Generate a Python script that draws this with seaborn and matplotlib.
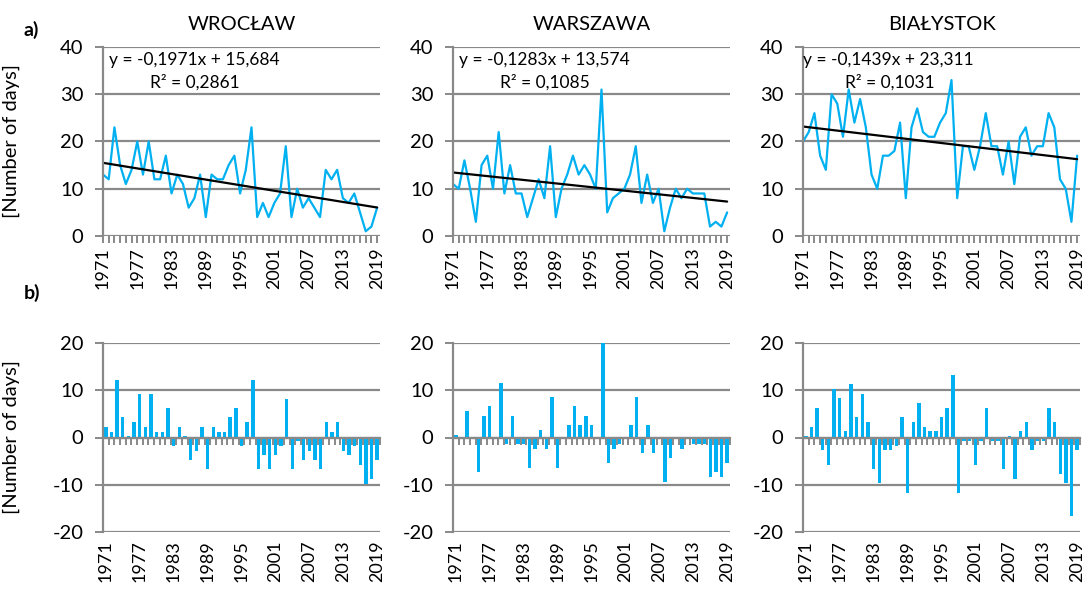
import numpy as np
import pandas as pd
import seaborn as sns
import matplotlib.pyplot as plt
from matplotlib.ticker import FixedLocator

# number of days per year
years = list(range(1971, 2020))
wroclaw = [13, 12, 23, 15, 11, 14, 20, 13, 20, 12,
           12, 17, 9, 13, 11, 6, 8, 13, 4, 13,
           12, 12, 15, 17, 9, 14, 23, 4, 7, 4,
           7, 9, 19, 4, 10, 6, 8, 6, 4, 14,
           12, 14, 8, 7, 9, 5, 1, 2, 6]
warszawa = [11, 10, 16, 10, 3, 15, 17, 10, 22, 9,
            15, 9, 9, 4, 8, 12, 8, 19, 4, 10,
            13, 17, 13, 15, 13, 10, 31, 5, 8, 9,
            10, 13, 19, 7, 13, 7, 10, 1, 6, 10,
            8, 10, 9, 9, 9, 2, 3, 2, 5]
bialystok = [20, 22, 26, 17, 14, 30, 28, 21, 31, 24,
             29, 23, 13, 10, 17, 17, 18, 24, 8, 23,
             27, 22, 21, 21, 24, 26, 33, 8, 19, 19,
             14, 19, 26, 19, 19, 13, 20, 11, 21, 23,
             17, 19, 19, 26, 23, 12, 10, 3, 17]

stations = ["WROCŁAW", "WARSZAWA", "BIAŁYSTOK"]
series = [wroclaw, warszawa, bialystok]
# linear trend as printed on the chart (x = 1 for 1971)
slopes = [-0.1971, -0.1283, -0.1439]
intercepts = [15.684, 13.574, 23.311]
r2_values = ["0,2861", "0,1085", "0,1031"]
eq_texts = ["y = -0,1971x + 15,684", "y = -0,1283x + 13,574", "y = -0,1439x + 23,311"]
label_years = list(range(1971, 2020, 6))

BLUE = "#00b0f0"
GREY = "#898989"

sns.set_theme(style="white")
plt.rcParams['font.family'] = ['Lato', 'DejaVu Sans']
plt.rcParams['axes.unicode_minus'] = False
plt.rcParams['text.color'] = 'black'
plt.rcParams['xtick.labelcolor'] = 'black'
plt.rcParams['ytick.labelcolor'] = 'black'
plt.rcParams['axes.labelcolor'] = 'black'

fig = plt.figure(figsize=(10.88, 5.95), dpi=100)

lefts = [103 / 1088, 453 / 1088, 803 / 1088]
width = 277 / 1088
top_bottom = 1 - 236 / 595
low_bottom = 1 - 532 / 595
height = 189 / 595


def style_axes(ax):
    for side in ["top", "right"]:
        ax.spines[side].set_visible(False)
    ax.spines["left"].set_color(GREY)
    ax.spines["left"].set_linewidth(1.6)
    ax.yaxis.grid(True, color=GREY, linewidth=1.6)
    ax.set_axisbelow(True)
    ax.tick_params(axis="y", which="major", direction="out", length=6, width=1.4,
                   color=GREY, labelsize=14.5, pad=8, left=True)


for i, (name, vals) in enumerate(zip(stations, series)):
    df = pd.DataFrame({"year": years, "days": vals})
    df["trend"] = slopes[i] * (df["year"] - 1970) + intercepts[i]
    df["anomaly"] = df["days"] - df["days"].mean()

    # ---- a) time series with trend
    ax = fig.add_axes([lefts[i], top_bottom, width, height])
    sns.lineplot(data=df, x="year", y="days", color=BLUE, linewidth=1.6, ax=ax)
    sns.lineplot(data=df, x="year", y="trend", color="black", linewidth=1.6, ax=ax)
    style_axes(ax)
    ax.spines["bottom"].set_visible(False)
    ax.set_ylim(0, 40)
    ax.set_yticks([0, 10, 20, 30, 40])
    ax.set_xlim(1971, 2019.5)
    ax.set_xticks(label_years)
    ax.xaxis.set_minor_locator(FixedLocator(years))
    ax.tick_params(axis="x", which="both", direction="out", length=5, width=1.4,
                   color=GREY, bottom=True, labelsize=13, labelrotation=90, pad=3)
    ax.set_xlabel("")
    ax.set_ylabel("")
    ax.set_title(name, fontsize=14.5, pad=12)
    eq_x = 0.0 if i == 2 else 0.02
    ax.text(eq_x, 0.93, eq_texts[i], transform=ax.transAxes, fontsize=12.5,
            va="center", ha="left")
    ax.text(eq_x + 0.15, 0.81, "R² = " + r2_values[i], transform=ax.transAxes,
            fontsize=12.5, va="center", ha="left")

    # ---- b) deviations from the mean
    bx = fig.add_axes([lefts[i], low_bottom, width, height])
    sns.barplot(data=df, x="year", y="anomaly", native_scale=True, color=BLUE,
                saturation=1, width=0.6, linewidth=0, ax=bx)
    style_axes(bx)
    bx.spines["bottom"].set_position(("data", 0))
    bx.spines["bottom"].set_color(GREY)
    bx.spines["bottom"].set_linewidth(1.6)
    bx.set_ylim(-20, 20)
    bx.set_yticks([-20, -10, 0, 10, 20])
    bx.set_xlim(1970.5, 2019.5)
    bx.set_xticks([])
    bx.xaxis.set_minor_locator(FixedLocator([y + 0.5 for y in years]))
    bx.tick_params(axis="x", which="minor", direction="out", length=5, width=1.4,
                   color=GREY, bottom=True)
    bx.set_xlabel("")
    bx.set_ylabel("")
    sec = bx.secondary_xaxis("bottom")
    sec.set_xticks(label_years)
    sec.spines["bottom"].set_visible(False)
    sec.tick_params(axis="x", length=0, labelsize=13, labelrotation=90, pad=6)

    if i == 0:
        for a in (ax, bx):
            a.set_ylabel("[Number of days]", fontsize=14.5)
            a.yaxis.set_label_coords(-0.30, 0.5)

fig.text(0.022, 0.95, "a)", fontsize=14, fontweight="bold", va="center")
fig.text(0.022, 0.508, "b)", fontsize=14, fontweight="bold", va="center")

fig.savefig("out.png", dpi=100)
